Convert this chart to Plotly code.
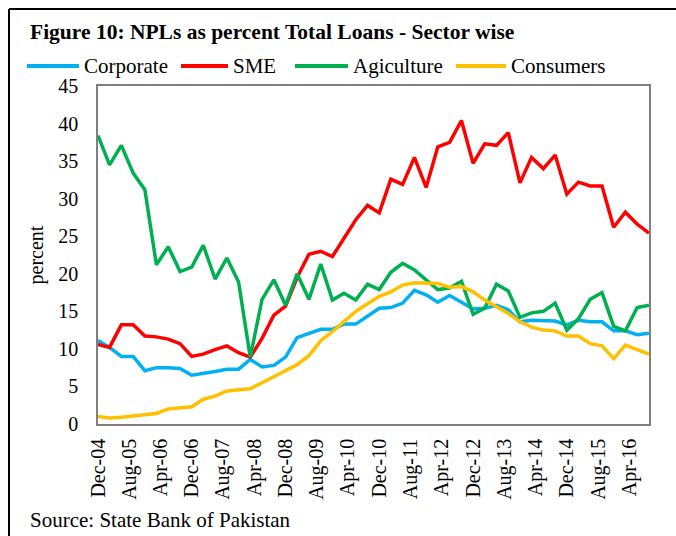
import plotly.graph_objects as go
import pandas as pd

# Quarter-end dates, Dec-2004 through Sep-2016
quarters = pd.date_range("2004-12-01", "2016-09-01", freq="3MS").strftime("%Y-%m-%d").tolist()

corporate = [11.1, 10.2, 9.0, 9.0, 7.1, 7.5, 7.5, 7.4, 6.5, 6.7, 7.0, 7.3, 7.3, 8.6, 7.6, 7.8,
             8.9, 11.5, 12.1, 12.6, 12.6, 13.3, 13.3, 14.4, 15.4, 15.5, 16.1, 17.8, 17.2, 16.2, 17.1, 16.2,
             15.3, 15.4, 15.8, 15.2, 13.6, 13.8, 13.7, 13.7, 13.2, 13.8, 13.6, 13.6, 12.4, 12.4, 11.9, 12.1]
sme = [10.6, 10.2, 13.2, 13.2, 11.7, 11.6, 11.3, 10.7, 9.0, 9.3, 9.9, 10.4, 9.5, 8.9, 11.4, 14.5,
       15.7, 19.5, 22.6, 23.0, 22.3, 24.7, 27.2, 29.1, 28.1, 32.6, 31.9, 35.5, 31.5, 36.9, 37.5, 40.4,
       34.7, 37.3, 37.1, 38.8, 32.1, 35.5, 34.0, 35.8, 30.6, 32.2, 31.7, 31.7, 26.2, 28.2, 26.6, 25.4]
agriculture = [38.4, 34.5, 37.1, 33.4, 31.2, 21.2, 23.6, 20.3, 20.9, 23.8, 19.3, 22.1, 18.9, 8.9, 16.6, 19.2,
               15.8, 20.0, 16.6, 21.3, 16.5, 17.4, 16.5, 18.6, 17.9, 20.2, 21.4, 20.5, 19.2, 17.9, 18.1, 19.0,
               14.6, 15.4, 18.6, 17.7, 14.2, 14.8, 15.0, 16.1, 12.5, 14.0, 16.6, 17.5, 13.0, 12.4, 15.5, 15.8]
consumers = [1.0, 0.8, 0.9, 1.1, 1.3, 1.4, 2.0, 2.2, 2.3, 3.3, 3.7, 4.4, 4.5, 4.7, 5.5, 6.3,
             7.0, 7.9, 9.1, 11.1, 12.3, 13.6, 15.0, 16.0, 17.0, 17.6, 18.5, 18.8, 18.7, 18.7, 18.2, 18.3,
             17.6, 16.5, 15.6, 14.7, 13.6, 12.9, 12.5, 12.4, 11.7, 11.7, 10.7, 10.4, 8.7, 10.5, 9.9, 9.3]

series_names = ["Corporate", "SME", "Agiculture", "Consumers"]
series_values = [corporate, sme, agriculture, consumers]
series_colors = ["#00B0F0", "#FF0000", "#00B050", "#FFC000"]

# Axis ticks every eight months
tick_dates = pd.date_range("2004-12-01", "2016-04-01", freq="8MS")
tick_vals = tick_dates.strftime("%Y-%m-%d").tolist()
tick_text = tick_dates.strftime("%b-%y").tolist()

W, H = 676, 536
L, R, T, B = 98, 649, 86, 424
FONT = "Liberation Serif, Times New Roman, serif"


def px_x(x):
    return (x - L) / (R - L)


def px_y(y):
    return (B - y) / (B - T)


fig = go.Figure()
for name, vals, col in zip(series_names, series_values, series_colors):
    fig.add_trace(go.Scatter(x=quarters, y=vals, mode="lines", name=name,
                             line=dict(color=col, width=3.5), showlegend=False))

shapes = [
    # outer frame (left and top edges)
    dict(type="line", xref="paper", yref="paper", x0=px_x(9), x1=px_x(W + 5),
         y0=px_y(9), y1=px_y(9), line=dict(color="black", width=2)),
    dict(type="line", xref="paper", yref="paper", x0=px_x(9), x1=px_x(9),
         y0=px_y(9), y1=px_y(H + 5), line=dict(color="black", width=2)),
]
annotations = [
    dict(text="<b>Figure 10: NPLs as percent Total Loans - Sector wise</b>", xref="paper", yref="paper",
         x=px_x(28), y=px_y(32), xanchor="left", yanchor="middle", showarrow=False,
         font=dict(family=FONT, size=21.5, color="black")),
    dict(text="Source: State Bank of Pakistan", xref="paper", yref="paper",
         x=px_x(28), y=px_y(520), xanchor="left", yanchor="middle", showarrow=False,
         font=dict(family=FONT, size=21, color="black")),
]

# Legend row
legend_pos = [(27, 79), (181, 228), (295, 348), (456, 506)]
legend_y = 66
for (x0, x1), name, col in zip(legend_pos, series_names, series_colors):
    shapes.append(dict(type="line", xref="paper", yref="paper", x0=px_x(x0), x1=px_x(x1),
                       y0=px_y(legend_y), y1=px_y(legend_y), line=dict(color=col, width=4)))
    annotations.append(dict(text=name, xref="paper", yref="paper", x=px_x(x1 + 3), y=px_y(legend_y),
                            xanchor="left", yanchor="middle", showarrow=False,
                            font=dict(family=FONT, size=21, color="black")))

fig.update_layout(
    width=W, height=H,
    margin=dict(l=L, r=W - R, t=T, b=H - B, pad=0),
    paper_bgcolor="white", plot_bgcolor="white",
    font=dict(family=FONT, size=20, color="black"),
    shapes=shapes, annotations=annotations,
    showlegend=False,
)
fig.update_xaxes(
    type="date", range=[quarters[0], quarters[-1]],
    tickmode="array", tickvals=tick_vals, ticktext=tick_text, tickangle=-90,
    showgrid=False, zeroline=False,
    showline=True, mirror=True, linecolor="#7f7f7f", linewidth=1.5,
    ticks="outside", ticklen=0, ticklabelstandoff=5,
    tickfont=dict(family=FONT, size=20, color="black"),
)
fig.update_yaxes(
    range=[0, 45], tickmode="linear", tick0=0, dtick=5,
    showgrid=False, zeroline=False,
    showline=True, mirror=True, linecolor="#7f7f7f", linewidth=1.5,
    ticks="outside", ticklen=0, ticklabelstandoff=14,
    tickfont=dict(family=FONT, size=20, color="black"),
    title=dict(text="percent", standoff=9, font=dict(family=FONT, size=20, color="black")),
)

fig.write_html("out.html")
